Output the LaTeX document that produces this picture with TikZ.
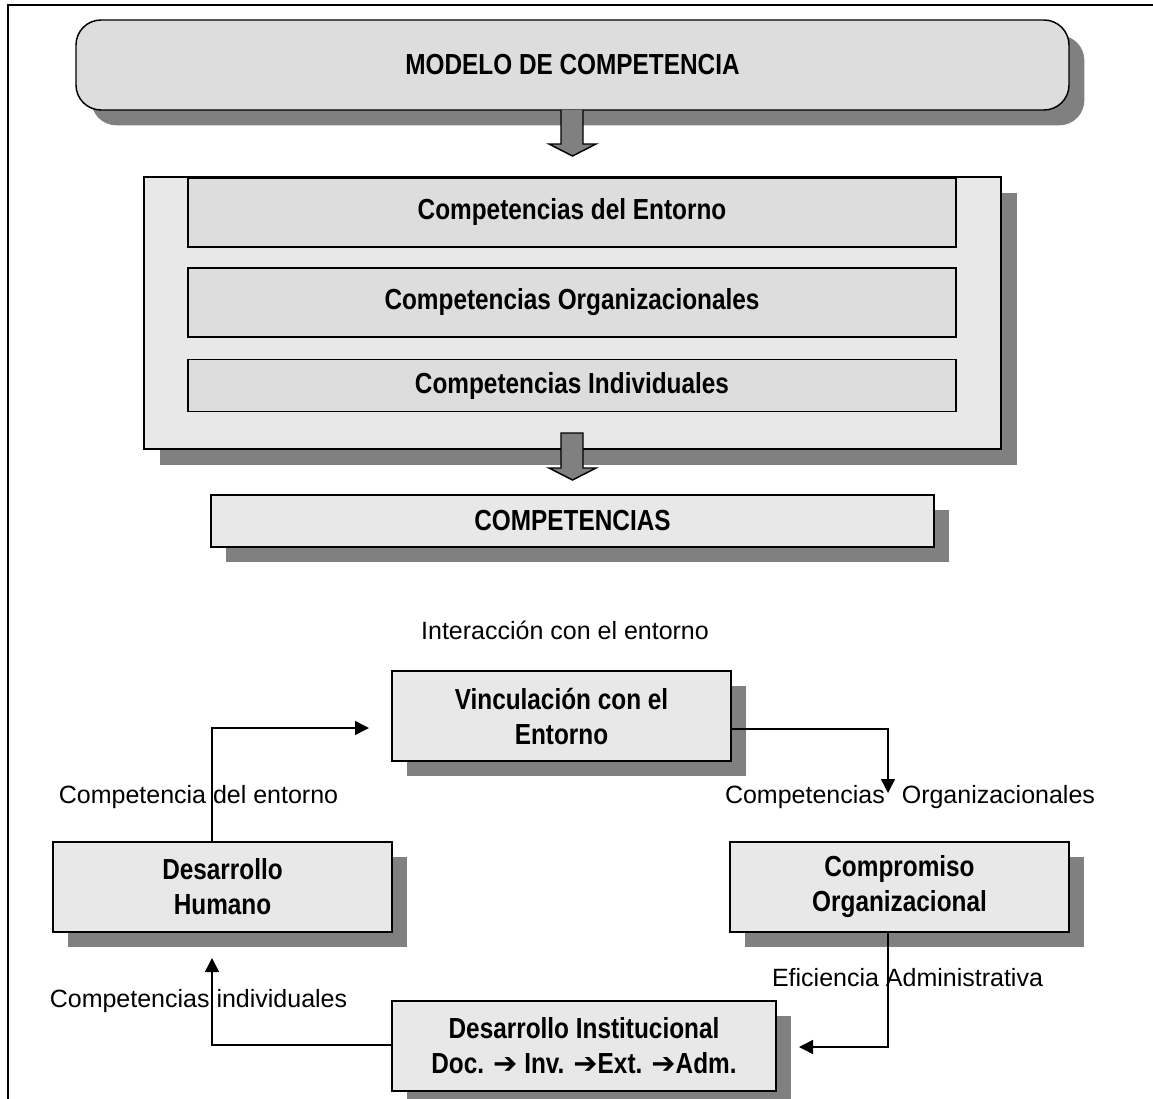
\documentclass[tikz,border=0pt]{standalone}
\usepackage{fontspec}
\setmainfont{Liberation Sans}
\newfontfamily\boxfont[FakeStretch=0.84]{Liberation Sans}
\newfontfamily\symfont{DejaVu Sans}
\usetikzlibrary{shadows,arrows.meta}
\definecolor{shadowc}{HTML}{808080}
\definecolor{fillA}{HTML}{DDDDDD}
\definecolor{fillB}{HTML}{E8E8E8}
\newcommand{\barr}{{\symfont ➔}}
\tikzset{
  shad/.style={drop shadow={shadow xshift=11.5pt,shadow yshift=-11.5pt,fill=shadowc,opacity=1}},
  boxbase/.style={draw=black,line width=1.1pt,inner sep=0pt,align=center,
    font=\boxfont\bfseries\fontsize{21.75}{26.25}\selectfont},
  lowbox/.style={boxbase,fill=fillB,shad,minimum height=67.5pt},
  innerbox/.style={boxbase,fill=fillA,minimum width=576pt},
  lbl/.style={inner sep=0pt,font=\fontsize{18.75}{22}\selectfont},
  conn/.style={line width=1.1pt},
  tipped/.style={conn,-{Triangle[length=10.5pt,width=10.5pt]}},
  blockarrow/.style={fill=shadowc,draw=black,line width=1.1pt,line join=miter}
}
\begin{document}
\begin{tikzpicture}[x=0.75pt,y=-0.75pt]
\useasboundingbox (0,0) rectangle (1153,1099);
% frame
\draw[line width=1.5pt] (8,1099) -- (8,5) -- (1153,5);

% top rounded box
\node[boxbase,fill=fillA,rounded corners=18.75pt,shad,minimum width=744.75pt,minimum height=67.5pt]
  (model) at (572.5,65) {MODELO DE COMPETENCIA};

% container
\node[draw=black,line width=1.1pt,fill=fillB,inner sep=0pt,
  drop shadow={shadow xshift=12pt,shadow yshift=-12pt,fill=shadowc,opacity=1},
  minimum width=642.75pt,minimum height=204pt] (cont) at (572.5,313) {};
\node[innerbox,minimum height=51.75pt] (e1) at (572,212.5) {Competencias del Entorno};
\node[innerbox,minimum height=51.75pt] (e2) at (572,302.5) {Competencias Organizacionales};
\node[innerbox,minimum height=39pt] (e3) at (572,385.5) {Competencias Individuales};

% competencias
\node[boxbase,fill=fillB,shad,minimum width=542.25pt,minimum height=39pt]
  (comps) at (572.5,521) {COMPETENCIAS};

% block arrows
\draw[blockarrow] (561,110) -- (561,144) -- (549,144) -- (572.5,156) -- (596,144) -- (583,144) -- (583,110);
\draw[blockarrow] (561,433) -- (561,468) -- (549,468) -- (572.5,480) -- (596,468) -- (583,468) -- (583,433) -- cycle;

% lower boxes
\node[lowbox,minimum width=254.25pt] (vinc) at (561.5,716) {Vinculación con el\\Entorno};
\node[lowbox,minimum width=254.25pt] (comp) at (899.5,887) {Compromiso\\Organizacional};
\node[lowbox,minimum width=254.25pt] (hum) at (222.5,887) {Desarrollo\\Humano};
\node[lowbox,minimum width=288pt] (inst) at (584,1046) {Desarrollo Institucional\\Doc. \barr{} Inv. \barr Ext. \barr Adm.};

% labels
\node[lbl] (l0) at (565,630) {Interacción con el entorno};
\node[lbl] (l1) at (198.5,797) {Competencia del entorno};
\node[lbl] (l2) at (910,797) {Competencias\hspace{12.75pt}Organizacionales};
\node[lbl] (l3) at (907.5,978) {Eficiencia Administrativa};
\node[lbl] (l4) at (198.5,1001) {Competencias individuales};

% connectors
\coordinate (t1) at (369,728);
\coordinate (t2) at (888,793);
\coordinate (t3) at (799,1047);
\coordinate (t4) at (212,958);
\draw[tipped] (hum.north -| t4) |- (t1);
\draw[tipped] (vinc.east |- 0,729) -| (t2);
\draw[tipped] (comp.south -| t2) |- (t3);
\draw[tipped] (inst.west |- 0,1045) -| (t4);
\end{tikzpicture}
\end{document}
